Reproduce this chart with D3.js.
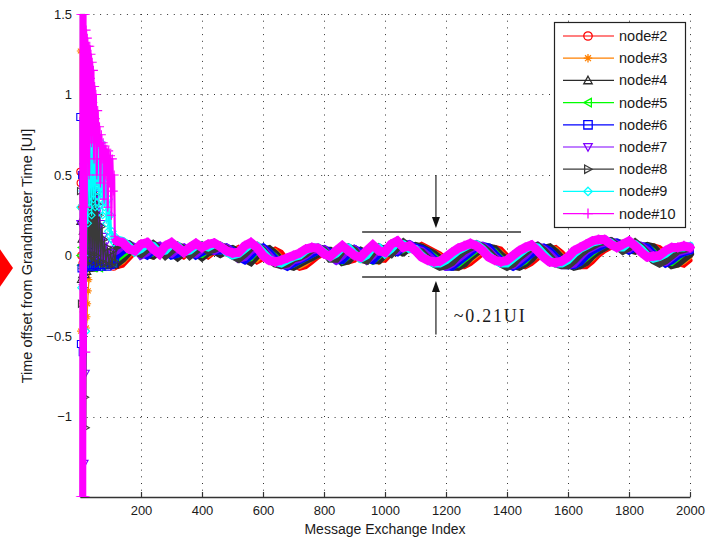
<!DOCTYPE html>
<html><head><meta charset="utf-8">
<script src="https://cdn.jsdelivr.net/npm/d3@7/dist/d3.min.js"></script>
<style>
html,body{margin:0;padding:0;background:#fff;}
svg{display:block;font-family:"Liberation Sans",Arial,sans-serif;}
</style></head>
<body><svg id="c" width="707" height="539"></svg>
<script>
// ---------- data ----------
const nodeNames = ["node#2","node#3","node#4","node#5","node#6","node#7","node#8","node#9","node#10"];
const xTicks = [200,400,600,800,1000,1200,1400,1600,1800,2000];
const yTicks = [-1,-0.5,0,0.5,1,1.5];
// steady-state sampled every 20 exchanges from 120 to 2000
const steadyStart = 120, steadyStep = 20;

// transient (index, value) pairs read from the first ~120 exchanges
const node2Transient = [[1,0.52],[2,0.45],[4,0.0],[6,0.3],[8,-0.05],[11,0.2],[14,0.0],[18,0.1],[22,-0.03],[26,0.05],[30,-0.04],[40,0.0],[50,-0.03],[60,0.01],[70,-0.04],[80,-0.02],[90,-0.05],[100,-0.04],[110,-0.07]];
const node3Transient = [[1,1.27],[2,-0.47],[4,0.3],[6,-0.3],[8,0.2],[10,-0.35],[13,0.1],[16,-0.4],[19,0.0],[21,-0.45],[23,-0.38],[25,-0.3],[27,-0.22],[29,-0.15],[31,-0.08],[33,0.0],[36,0.03],[40,-0.02],[45,0.02],[50,-0.03],[55,0.01],[60,-0.04],[70,0.0],[80,-0.04],[90,-0.01],[100,-0.05],[110,-0.06]];
const node4Transient = [[1,0.21],[3,-0.15],[5,0.1],[7,-0.12],[9,0.15],[12,-0.1],[15,0.2],[18,-0.12],[21,0.25],[24,-0.1],[27,0.22],[30,-0.08],[34,0.2],[38,-0.07],[42,0.15],[46,-0.08],[50,0.1],[55,-0.07],[60,0.05],[65,-0.06],[70,0.02],[75,-0.06],[80,0.0],[85,-0.05],[90,0.0],[95,-0.06],[100,-0.02],[105,-0.06],[110,-0.03],[115,-0.06]];
const node5Transient = [[1,0.0],[3,-0.06],[5,0.05],[8,-0.08],[11,0.15],[14,-0.06],[17,0.2],[20,-0.05],[23,0.22],[26,-0.06],[29,0.18],[32,-0.07],[35,0.12],[38,-0.06],[42,0.08],[46,-0.08],[50,0.03],[55,-0.07],[60,0.0],[65,-0.08],[70,-0.03],[75,-0.07],[80,-0.04],[90,-0.06],[100,-0.04],[110,-0.05]];
const node6Transient = [[1,0.86],[3,-0.55],[5,-0.08],[7,0.5],[9,-0.6],[11,0.45],[13,-0.08],[16,0.5],[19,-0.07],[22,0.5],[25,-0.06],[28,0.45],[31,-0.07],[34,0.4],[37,-0.06],[40,0.35],[43,-0.07],[46,0.3],[49,-0.06],[52,0.25],[55,-0.07],[58,0.15],[62,-0.06],[66,0.08],[70,-0.07],[75,0.0],[80,-0.06],[85,-0.02],[90,-0.07],[95,-0.04],[100,-0.06],[105,-0.03],[110,-0.05],[115,-0.02]];
const node7Transient = [[1,0.2],[6,0.5],[9,-0.2],[12,0.55],[15,-1.29],[17,0.3],[19,-0.73],[23,0.55],[26,0.05],[29,0.5],[32,0.0],[35,0.5],[38,0.05],[41,0.48],[44,0.0],[47,0.45],[50,0.02],[53,0.42],[56,0.0],[59,0.38],[62,0.02],[65,0.3],[68,0.0],[71,0.2],[74,-0.02],[78,0.12],[82,-0.03],[86,0.08],[90,-0.02],[95,0.04],[100,0.0],[105,0.02],[110,0.0],[115,0.02]];
const node8Transient = [[1,0.4],[4,-0.3],[8,0.5],[12,-0.2],[15,0.5],[17,-0.88],[19,-1.07],[21,0.5],[24,-0.05],[27,0.5],[30,0.0],[33,0.48],[36,-0.03],[39,0.45],[42,0.0],[45,0.42],[48,-0.04],[51,0.38],[54,0.0],[57,0.32],[60,-0.05],[64,0.25],[68,-0.04],[72,0.18],[76,-0.05],[80,0.1],[85,-0.05],[90,0.05],[95,-0.06],[100,0.02],[105,-0.06],[110,0.03],[115,-0.04]];
const node9Transient = [[1,0.3],[4,-0.2],[8,0.4],[12,0.0],[16,0.5],[20,-0.47],[23,0.6],[26,0.2],[29,0.78],[32,0.3],[35,0.8],[38,0.25],[41,0.75],[44,0.35],[47,0.72],[50,0.3],[53,0.72],[56,0.4],[59,0.7],[62,0.3],[65,0.68],[68,0.35],[71,0.7],[74,0.25],[77,0.62],[80,0.3],[83,0.55],[86,0.2],[89,0.45],[92,0.15],[95,0.35],[98,0.12],[101,0.25],[104,0.1],[107,0.15],[111,0.08],[115,0.12]];
const node10Transient = [[1,-1.5],[2,1.5],[3,-1.5],[4,1.5],[5,-1.5],[6,1.5],[7,-1.5],[8,1.5],[9,-1.5],[10,1.5],[11,-1.5],[12,1.5],[13,-1.5],[14,1.5],[15,-1.5],[16,1.5],[17,-1.5],[18,1.5],[19,-0.6],[20,1.4],[22,0.3],[24,1.35],[26,0.9],[28,1.3],[30,0.5],[32,1.3],[34,1.1],[36,1.25],[38,0.7],[40,1.2],[42,0.95],[44,1.15],[46,0.6],[48,1.05],[50,0.85],[52,1.0],[55,0.5],[58,0.9],[61,0.7],[64,0.8],[67,0.45],[70,0.75],[73,0.6],[76,0.7],[79,0.35],[82,0.68],[85,0.5],[88,0.66],[91,0.3],[94,0.65],[97,0.45],[100,0.62],[103,0.25],[106,0.6],[109,0.4],[112,0.5],[114,0.12],[117,0.1]];

const node2Steady = [-0.07,-0.06,-0.02,0.02,0.04,0.03,0.0,0.0,0.03,0.04,
0.01,-0.01,0.02,0.04,0.01,-0.01,0.02,0.03,0.01,0.03,
0.05,0.03,-0.01,-0.04,-0.02,0.02,0.04,0.02,-0.03,-0.06,
-0.08,-0.07,-0.04,-0.01,0.01,0.03,0.03,0.0,-0.04,-0.03,
0.01,0.03,0.01,-0.03,-0.03,0.01,0.04,0.03,0.03,0.05,
0.07,0.05,0.03,0.01,-0.02,-0.05,-0.07,-0.07,-0.05,-0.02,
0.01,0.04,0.05,0.04,0.0,-0.04,-0.06,-0.07,-0.05,-0.02,
0.02,0.04,0.05,0.02,-0.02,-0.05,-0.07,-0.07,-0.04,0.0,
0.03,0.05,0.07,0.08,0.07,0.04,0.03,0.05,0.06,0.05,
0.02,-0.02,-0.05,-0.06,-0.03];
const node3Steady = [-0.06,-0.04,0.0,0.03,0.04,0.02,-0.01,0.01,0.04,0.03,
0.0,0.0,0.03,0.03,0.0,0.0,0.03,0.02,0.02,0.04,
0.04,0.01,-0.03,-0.03,0.01,0.04,0.03,-0.01,-0.05,-0.07,
-0.07,-0.05,-0.02,0.0,0.02,0.03,0.02,-0.02,-0.04,-0.01,
0.02,0.02,-0.01,-0.04,-0.01,0.03,0.04,0.02,0.04,0.06,
0.06,0.04,0.02,0.0,-0.04,-0.06,-0.08,-0.06,-0.03,0.0,
0.03,0.05,0.05,0.02,-0.02,-0.05,-0.07,-0.06,-0.03,0.0,
0.03,0.05,0.04,0.0,-0.04,-0.06,-0.07,-0.05,-0.02,0.02,
0.04,0.06,0.08,0.08,0.05,0.03,0.04,0.06,0.06,0.03,
-0.01,-0.05,-0.06,-0.04,-0.01];
const node4Steady = [-0.05,-0.02,0.02,0.04,0.04,0.01,0.0,0.03,0.04,0.02,
-0.01,0.02,0.04,0.02,-0.01,0.02,0.03,0.01,0.03,0.04,
0.02,-0.02,-0.04,0.0,0.03,0.04,0.01,-0.03,-0.06,-0.07,
-0.05,-0.03,-0.01,0.01,0.03,0.03,0.0,-0.04,-0.03,0.01,
0.03,0.01,-0.03,-0.03,0.01,0.04,0.03,0.02,0.05,0.06,
0.05,0.03,0.01,-0.02,-0.05,-0.07,-0.07,-0.05,-0.01,0.02,
0.04,0.05,0.04,0.0,-0.03,-0.06,-0.07,-0.05,-0.02,0.02,
0.04,0.05,0.02,-0.02,-0.05,-0.07,-0.06,-0.04,0.0,0.03,
0.05,0.07,0.08,0.07,0.04,0.03,0.05,0.06,0.05,0.01,
-0.03,-0.06,-0.05,-0.02,0.01];
const node5Steady = [-0.03,0.0,0.03,0.05,0.04,0.0,0.01,0.04,0.04,0.01,
0.0,0.03,0.04,0.01,0.0,0.03,0.03,0.02,0.04,0.04,
0.01,-0.03,-0.02,0.02,0.04,0.03,0.0,-0.04,-0.06,-0.06,
-0.04,-0.02,0.0,0.02,0.04,0.03,-0.01,-0.04,-0.01,0.03,
0.03,0.0,-0.04,-0.01,0.03,0.04,0.02,0.03,0.06,0.06,
0.04,0.03,0.0,-0.03,-0.06,-0.07,-0.06,-0.03,0.0,0.03,
0.05,0.05,0.03,-0.01,-0.04,-0.06,-0.06,-0.04,0.0,0.03,
0.05,0.04,0.0,-0.03,-0.05,-0.07,-0.05,-0.02,0.01,0.04,
0.06,0.08,0.08,0.06,0.03,0.04,0.06,0.06,0.03,-0.01,
-0.04,-0.05,-0.02,0.01,0.02];
const node6Steady = [0.0,0.03,0.05,0.05,0.02,0.0,0.03,0.05,0.03,0.0,
0.01,0.04,0.03,0.0,0.02,0.04,0.03,0.03,0.05,0.03,
-0.01,-0.03,0.0,0.04,0.05,0.02,-0.02,-0.05,-0.07,-0.05,
-0.03,-0.01,0.01,0.03,0.04,0.02,-0.03,-0.03,0.01,0.04,
0.02,-0.02,-0.03,0.01,0.04,0.03,0.02,0.05,0.07,0.05,
0.04,0.02,-0.02,-0.05,-0.07,-0.07,-0.04,-0.01,0.02,0.05,
0.06,0.05,0.01,-0.03,-0.05,-0.07,-0.05,-0.02,0.01,0.04,
0.05,0.03,-0.01,-0.04,-0.06,-0.06,-0.04,0.0,0.03,0.05,
0.07,0.08,0.08,0.05,0.03,0.05,0.06,0.05,0.01,-0.02,
-0.05,-0.03,0.0,0.02,0.03];
const node7Steady = [0.03,0.06,0.07,0.05,0.0,0.02,0.05,0.06,0.02,0.01,
0.04,0.05,0.02,0.01,0.04,0.05,0.03,0.05,0.05,0.02,
-0.02,-0.01,0.03,0.05,0.04,0.0,-0.04,-0.06,-0.06,-0.03,
-0.02,0.0,0.03,0.04,0.04,0.0,-0.03,0.0,0.04,0.04,
0.0,-0.03,0.0,0.04,0.04,0.02,0.03,0.07,0.07,0.04,
0.03,0.0,-0.03,-0.06,-0.07,-0.05,-0.02,0.01,0.04,0.06,
0.06,0.03,-0.01,-0.04,-0.06,-0.06,-0.03,0.0,0.04,0.06,
0.04,0.01,-0.03,-0.06,-0.06,-0.05,-0.01,0.03,0.05,0.07,
0.08,0.09,0.07,0.04,0.04,0.07,0.06,0.03,-0.01,-0.04,
-0.04,-0.01,0.02,0.03,0.04];
const node8Steady = [0.06,0.08,0.07,0.03,0.01,0.04,0.07,0.04,0.0,0.03,
0.06,0.04,0.0,0.03,0.06,0.03,0.04,0.06,0.04,0.0,
-0.02,0.01,0.05,0.06,0.03,-0.02,-0.05,-0.06,-0.05,-0.02,
-0.01,0.01,0.04,0.05,0.03,-0.02,-0.02,0.03,0.05,0.03,
-0.02,-0.03,0.02,0.05,0.03,0.01,0.05,0.08,0.05,0.03,
0.02,-0.02,-0.05,-0.07,-0.06,-0.04,0.0,0.03,0.05,0.07,
0.05,0.02,-0.02,-0.05,-0.07,-0.05,-0.01,0.02,0.05,0.06,
0.03,-0.01,-0.05,-0.06,-0.06,-0.03,0.01,0.04,0.06,0.08,
0.09,0.09,0.06,0.03,0.05,0.08,0.05,0.01,-0.03,-0.05,
-0.03,0.0,0.03,0.04,0.05];
const node9Steady = [0.1,0.09,0.06,0.02,0.04,0.07,0.06,0.02,0.03,0.07,
0.06,0.02,0.03,0.06,0.06,0.05,0.07,0.06,0.02,0.0,
0.01,0.04,0.07,0.06,0.02,-0.02,-0.04,-0.05,-0.03,-0.01,
0.0,0.03,0.05,0.05,0.02,-0.01,0.01,0.05,0.05,0.01,
-0.02,0.0,0.05,0.05,0.01,0.04,0.08,0.07,0.04,0.04,
0.0,-0.03,-0.05,-0.05,-0.03,0.0,0.03,0.05,0.07,0.07,
0.04,0.0,-0.03,-0.05,-0.05,-0.02,0.01,0.04,0.06,0.05,
0.01,-0.03,-0.05,-0.05,-0.03,0.01,0.04,0.06,0.08,0.09,
0.1,0.08,0.05,0.05,0.08,0.07,0.04,0.0,-0.02,-0.01,
0.01,0.04,0.05,0.05,0.06];
const node10Steady = [0.09,0.08,0.04,0.03,0.07,0.08,0.04,0.01,0.06,0.08,
0.05,0.02,0.05,0.075,0.05,0.07,0.078,0.055,0.03,0.015,
0.02,0.06,0.08,0.05,0.0,-0.03,-0.04,-0.03,-0.015,0.0,
0.015,0.04,0.05,0.045,0.01,-0.005,0.03,0.06,0.03,0.0,
-0.01,0.03,0.065,0.03,0.02,0.07,0.09,0.05,0.06,0.03,
-0.01,-0.03,-0.04,-0.035,-0.01,0.02,0.045,0.06,0.075,0.06,
0.03,-0.01,-0.03,-0.04,-0.03,0.0,0.03,0.05,0.065,0.03,
-0.01,-0.04,-0.045,-0.035,-0.01,0.03,0.05,0.07,0.09,0.1,
0.1,0.07,0.05,0.07,0.09,0.06,0.02,-0.01,-0.005,0.0,
0.03,0.05,0.05,0.06,0.05];

// annotation (in data units)
const bandAnnot = {x0: 925, x1: 1446, yTop: 0.146, yBot: -0.134, arrowX: 1167, arrowTopStart: 0.5, arrowBotEnd: -0.49, label: "~0.21UI", labelX: 1225, labelY: -0.41};

// ---------- styles ----------
const colors = ["#ff0000","#ff8000","#2b2b2b","#00ff00","#0000ff","#8000ff","#3a3a3a","#00ffff","#ff00ff"];
const markers = ["circle","asterisk","triUp","triLeft","square","triDown","triRight","diamond","plus"];
const ribbonWidth = [5,5,8,5,8,8,8,8,9];
const transients = [node2Transient,node3Transient,node4Transient,node5Transient,node6Transient,node7Transient,node8Transient,node9Transient,node10Transient];
const steadies = [node2Steady,node3Steady,node4Steady,node5Steady,node6Steady,node7Steady,node8Steady,node9Steady,node10Steady];

function markerPath(type, r){
  const k=0.8*r, d=0.7*r;
  switch(type){
    case "circle": return `M${r},0A${r},${r} 0 1 1 ${-r},0A${r},${r} 0 1 1 ${r},0Z`;
    case "plus": return `M${-r},0H${r}M0,${-r}V${r}`;
    case "asterisk": return `M${-r},0H${r}M0,${-r}V${r}M${-d},${-d}L${d},${d}M${-d},${d}L${d},${-d}`;
    case "triUp": return `M0,${-r}L${r},${k}L${-r},${k}Z`;
    case "triDown": return `M0,${r}L${r},${-k}L${-r},${-k}Z`;
    case "triLeft": return `M${-r},0L${k},${-r}L${k},${r}Z`;
    case "triRight": return `M${r},0L${-k},${-r}L${-k},${r}Z`;
    case "square": return `M${-r},${-r}H${r}V${r}H${-r}Z`;
    case "diamond": return `M0,${-r}L${r},0L0,${r}L${-r},0Z`;
  }
}

// ---------- chart ----------
const svg = d3.select("#c");
const x = d3.scaleLinear().domain([0,2000]).range([80,690]);
const y = d3.scaleLinear().domain([-1.5,1.5]).range([497,14]);
const textColor = "#1a1a1a";

// decorative red diamond at left edge (slide artefact)
svg.append("path").attr("d","M13,268L-10,235L-33,268L-10,301Z").attr("fill","#ff0000");

// grid
const grid = svg.append("g").attr("stroke","#333").attr("stroke-width",1).attr("stroke-dasharray","1,5.7");
grid.selectAll("line.v").data(xTicks).join("line")
  .attr("x1",d=>Math.round(x(d))+0.5).attr("x2",d=>Math.round(x(d))+0.5)
  .attr("y1",y(1.5)).attr("y2",y(-1.5));
grid.selectAll("line.h").data(yTicks).join("line")
  .attr("x1",x(0)).attr("x2",x(2000))
  .attr("y1",d=>Math.round(y(d))+0.5).attr("y2",d=>Math.round(y(d))+0.5);

// axes
const xAxis = d3.axisBottom(x).tickValues(xTicks).tickSizeInner(-5).tickSizeOuter(0).tickPadding(9).tickFormat(d3.format("d"));
const gx = svg.append("g").attr("transform",`translate(0,${y(-1.5)})`).call(xAxis);
const yAxis = d3.axisLeft(y).tickValues(yTicks).tickSizeInner(-5).tickSizeOuter(0).tickPadding(8).tickFormat(d3.format("~g"));
const gy = svg.append("g").attr("transform",`translate(${x(0)},0)`).call(yAxis);
[gx,gy].forEach(g=>{
  g.select(".domain").attr("stroke","#333").attr("stroke-width",1.3);
  g.selectAll(".tick line").attr("stroke","#333").attr("stroke-width",1.2);
  g.selectAll(".tick text").attr("fill",textColor).attr("font-size",13).attr("font-family","Liberation Sans, Arial, sans-serif");
});

// clip
svg.append("clipPath").attr("id","plotclip").append("rect").attr("x",60).attr("y",y(1.5)).attr("width",640).attr("height",y(-1.5)-y(1.5));

const plot = svg.append("g").attr("clip-path","url(#plotclip)");
const line = d3.line().x(d=>x(d[0])).y(d=>y(d[1]));

nodeNames.forEach((name,i)=>{
  const tr = transients[i];
  const st = steadies[i].map((v,j)=>[steadyStart+j*steadyStep, v]);
  const g = plot.append("g");
  // steady-state thick ribbon (dense markers in original)
  g.append("path").attr("d",line(st)).attr("fill","none").attr("stroke",colors[i])
    .attr("stroke-width",ribbonWidth[i]).attr("stroke-linejoin","miter").attr("stroke-linecap","round");
  if (i === 8) {
    g.selectAll("path.smk").data(st).join("path").attr("class","smk")
      .attr("transform",d=>`translate(${x(d[0])},${y(d[1])})`)
      .attr("d",markerPath(markers[i], 5))
      .attr("fill","none").attr("stroke",colors[i]).attr("stroke-width",1.6);
  }
  // transient thin line
  const trAll = tr.concat([st[0]]);
  g.append("path").attr("d",line(trAll)).attr("fill","none").attr("stroke",colors[i])
    .attr("stroke-width",i===8?2.2:1.3).attr("stroke-linejoin","round");
  g.selectAll("path.mk").data(tr).join("path").attr("class","mk")
    .attr("transform",d=>`translate(${x(d[0])},${y(d[1])})`)
    .attr("d",markerPath(markers[i], i===8?4.5:3.5))
    .attr("fill","none").attr("stroke",colors[i]).attr("stroke-width",1.1);
});

// annotation
const ann = svg.append("g").attr("stroke","#333").attr("fill","#111");
ann.append("line").attr("x1",x(bandAnnot.x0)).attr("x2",x(bandAnnot.x1)).attr("y1",y(bandAnnot.yTop)).attr("y2",y(bandAnnot.yTop)).attr("stroke-width",1.5);
ann.append("line").attr("x1",x(bandAnnot.x0)).attr("x2",x(bandAnnot.x1)).attr("y1",y(bandAnnot.yBot)).attr("y2",y(bandAnnot.yBot)).attr("stroke-width",1.5);
const ax = x(bandAnnot.arrowX);
const yt = y(bandAnnot.yTop), yb = y(bandAnnot.yBot);
ann.append("line").attr("x1",ax).attr("x2",ax).attr("y1",y(bandAnnot.arrowTopStart)).attr("y2",yt-12).attr("stroke-width",1.3);
ann.append("path").attr("d",`M${ax-4},${yt-15}L${ax+4},${yt-15}L${ax},${yt-4}Z`).attr("stroke","none");
ann.append("line").attr("x1",ax).attr("x2",ax).attr("y1",y(bandAnnot.arrowBotEnd)).attr("y2",yb+12).attr("stroke-width",1.3);
ann.append("path").attr("d",`M${ax-4},${yb+15}L${ax+4},${yb+15}L${ax},${yb+4}Z`).attr("stroke","none");
svg.append("text").attr("x",x(bandAnnot.labelX)).attr("y",y(bandAnnot.labelY))
  .attr("font-family","Liberation Serif, Times New Roman, serif").attr("font-size",18)
  .attr("letter-spacing",1.8).attr("fill",textColor).text(bandAnnot.label);

// legend
const lg = svg.append("g");
lg.append("rect").attr("x",554.5).attr("y",22.5).attr("width",131).attr("height",205)
  .attr("fill","#fff").attr("stroke","#222").attr("stroke-width",1.2);
nodeNames.forEach((name,i)=>{
  const yy = 36 + i*22.2;
  lg.append("line").attr("x1",563).attr("x2",614).attr("y1",yy).attr("y2",yy).attr("stroke",colors[i]).attr("stroke-width",1.2);
  lg.append("path").attr("transform",`translate(588,${yy})`).attr("d",markerPath(markers[i],i===8?5:4.2))
    .attr("fill","none").attr("stroke",colors[i]).attr("stroke-width",1.3);
  lg.append("text").attr("x",619).attr("y",yy+5).attr("font-size",14.5).attr("fill",textColor).text(name);
});

// axis labels
svg.append("text").attr("x",385).attr("y",534).attr("text-anchor","middle").attr("font-size",14).attr("fill",textColor).text("Message Exchange Index");
svg.append("text").attr("transform","translate(32,256) rotate(-90)").attr("text-anchor","middle").attr("font-size",14.5).attr("fill",textColor).text("Time offset from Grandmaster Time [UI]");
</script></body></html>
